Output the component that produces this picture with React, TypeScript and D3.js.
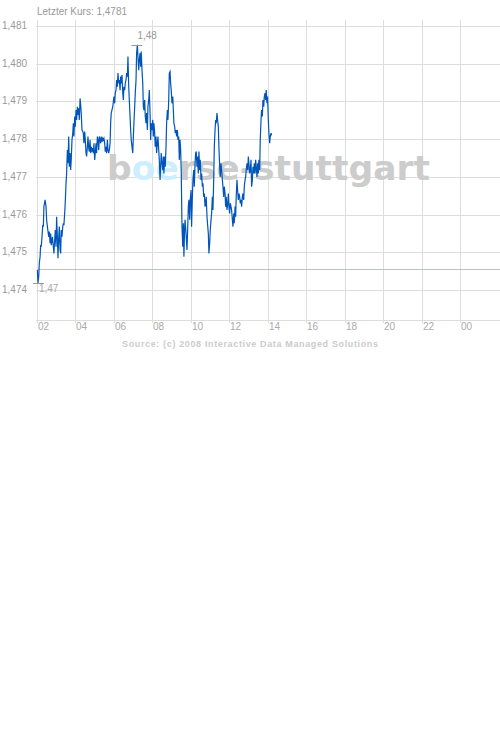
import React from "react";
import * as d3 from "d3";

// [hour of day, price]
const morning: [number, number][] = [
  [2.02, 1.47453], [2.05, 1.47419], [2.09, 1.47435], [2.12, 1.47471], [2.16, 1.47488],
  [2.19, 1.47519], [2.22, 1.47515], [2.26, 1.47541], [2.30, 1.47572], [2.33, 1.47568],
  [2.36, 1.47621], [2.42, 1.47639], [2.47, 1.47621], [2.50, 1.47586], [2.54, 1.47568],
  [2.61, 1.47541], [2.64, 1.47555], [2.68, 1.47524], [2.71, 1.47550], [2.74, 1.47519],
  [2.80, 1.47541], [2.85, 1.47515], [2.88, 1.47497], [2.92, 1.47533], [2.95, 1.47559],
  [2.99, 1.47515], [3.02, 1.47594], [3.06, 1.47541], [3.09, 1.47484], [3.13, 1.47541],
  [3.16, 1.47568], [3.20, 1.47506], [3.23, 1.47497], [3.26, 1.47559], [3.30, 1.47541],
  [3.34, 1.47568], [3.37, 1.47577], [3.40, 1.47572], [3.46, 1.47621], [3.51, 1.47683],
  [3.54, 1.47709], [3.58, 1.47771], [3.61, 1.47736], [3.65, 1.47807], [3.68, 1.47727],
  [3.72, 1.47763], [3.75, 1.47718], [3.78, 1.47745], [3.82, 1.47798], [3.86, 1.47816],
  [3.89, 1.47842], [3.92, 1.47807], [3.96, 1.47860], [3.99, 1.47833], [4.03, 1.47877],
  [4.06, 1.47851], [4.10, 1.47886], [4.13, 1.47864], [4.17, 1.47882], [4.20, 1.47851],
  [4.24, 1.47908], [4.27, 1.47891], [4.30, 1.47869], [4.34, 1.47824], [4.38, 1.47820],
  [4.41, 1.47816], [4.44, 1.47789], [4.48, 1.47820], [4.51, 1.47798], [4.55, 1.47763],
  [4.58, 1.47754], [4.62, 1.47780], [4.65, 1.47807], [4.69, 1.47776], [4.72, 1.47767],
  [4.76, 1.47798], [4.79, 1.47763], [4.82, 1.47780], [4.86, 1.47767], [4.90, 1.47776],
  [4.93, 1.47763], [4.96, 1.47789], [5.00, 1.47745], [5.03, 1.47763], [5.07, 1.47789],
  [5.10, 1.47763], [5.14, 1.47807], [5.17, 1.47798], [5.21, 1.47771], [5.24, 1.47807],
  [5.28, 1.47798], [5.31, 1.47789], [5.34, 1.47807], [5.38, 1.47793], [5.42, 1.47802],
  [5.45, 1.47798], [5.48, 1.47802], [5.52, 1.47789], [5.55, 1.47767], [5.59, 1.47780],
  [5.62, 1.47763], [5.66, 1.47798], [5.69, 1.47771], [5.73, 1.47763], [5.76, 1.47771],
  [5.80, 1.47789],
];

const midday: [number, number][] = [
  [5.83, 1.47842], [5.86, 1.47869], [5.94, 1.47886], [6.00, 1.47913], [6.04, 1.47895],
  [6.07, 1.47922], [6.11, 1.47930], [6.14, 1.47957], [6.18, 1.47939], [6.21, 1.47975],
  [6.25, 1.47948], [6.28, 1.47957], [6.32, 1.47930], [6.35, 1.47966], [6.38, 1.47948],
  [6.42, 1.47970], [6.46, 1.47922], [6.49, 1.47904], [6.52, 1.47939], [6.56, 1.47930],
  [6.59, 1.47948], [6.63, 1.47957], [6.66, 1.47975], [6.70, 1.47966], [6.73, 1.48019],
  [6.77, 1.47939], [6.80, 1.47904], [6.84, 1.47860], [6.87, 1.47824], [6.90, 1.47798],
  [6.94, 1.47780], [6.98, 1.47763], [7.01, 1.47807], [7.04, 1.47842], [7.08, 1.47886],
  [7.11, 1.47922], [7.15, 1.47957], [7.18, 1.48028], [7.22, 1.48050], [7.25, 1.48019],
  [7.29, 1.47983], [7.32, 1.48010], [7.36, 1.48028], [7.39, 1.47992], [7.42, 1.48032],
  [7.46, 1.47983], [7.50, 1.47948], [7.53, 1.47886], [7.56, 1.47877], [7.60, 1.47904],
  [7.63, 1.47860], [7.67, 1.47842], [7.70, 1.47869], [7.74, 1.47824], [7.77, 1.47886],
  [7.81, 1.47904], [7.84, 1.47930], [7.88, 1.47869], [7.91, 1.47798], [7.94, 1.47842],
  [7.98, 1.47824], [8.02, 1.47851], [8.05, 1.47807], [8.08, 1.47842], [8.12, 1.47816],
  [8.15, 1.47780], [8.19, 1.47807], [8.22, 1.47763], [8.26, 1.47789], [8.29, 1.47807],
  [8.33, 1.47771], [8.36, 1.47745], [8.40, 1.47692], [8.43, 1.47727], [8.46, 1.47763],
  [8.50, 1.47736], [8.54, 1.47718], [8.57, 1.47754], [8.60, 1.47709], [8.64, 1.47754],
  [8.67, 1.47727], [8.71, 1.47780], [8.74, 1.47842], [8.78, 1.47877], [8.81, 1.47851],
  [8.85, 1.47904], [8.88, 1.47975], [8.92, 1.47979], [8.95, 1.47948], [8.98, 1.47930],
  [9.02, 1.47895], [9.06, 1.47913], [9.09, 1.47877], [9.12, 1.47842], [9.16, 1.47833],
  [9.19, 1.47816], [9.23, 1.47824], [9.26, 1.47807], [9.30, 1.47824], [9.33, 1.47798],
  [9.37, 1.47807], [9.40, 1.47745], [9.44, 1.47798], [9.47, 1.47771], [9.50, 1.47718],
  [9.54, 1.47568], [9.58, 1.47515], [9.61, 1.47577], [9.64, 1.47488], [9.68, 1.47568],
];

const afternoon: [number, number][] = [
  [9.70, 1.47586], [9.75, 1.47550], [9.80, 1.47506], [9.84, 1.47568], [9.87, 1.47621],
  [9.90, 1.47639], [9.94, 1.47586], [9.97, 1.47639], [10.01, 1.47665], [10.04, 1.47568],
  [10.08, 1.47647], [10.11, 1.47692], [10.15, 1.47718], [10.18, 1.47674], [10.22, 1.47736],
  [10.25, 1.47763], [10.28, 1.47767], [10.32, 1.47727], [10.35, 1.47754], [10.39, 1.47709],
  [10.42, 1.47767], [10.46, 1.47718], [10.49, 1.47745], [10.53, 1.47692], [10.56, 1.47709],
  [10.60, 1.47674], [10.63, 1.47683], [10.67, 1.47647], [10.70, 1.47656], [10.74, 1.47621],
  [10.77, 1.47630], [10.80, 1.47647], [10.84, 1.47594], [10.88, 1.47568], [10.91, 1.47550],
  [10.94, 1.47497], [10.98, 1.47524], [11.01, 1.47559], [11.05, 1.47586], [11.08, 1.47603],
  [11.12, 1.47647], [11.15, 1.47612], [11.19, 1.47692], [11.22, 1.47780], [11.26, 1.47824],
  [11.29, 1.47851], [11.32, 1.47842], [11.36, 1.47869], [11.39, 1.47851], [11.43, 1.47833],
  [11.46, 1.47780], [11.50, 1.47727], [11.53, 1.47700], [11.57, 1.47736], [11.60, 1.47718],
  [11.64, 1.47692], [11.67, 1.47674], [11.71, 1.47647], [11.74, 1.47674], [11.78, 1.47656],
  [11.81, 1.47621], [11.84, 1.47647], [11.88, 1.47612], [11.92, 1.47630], [11.95, 1.47656],
  [11.98, 1.47621], [12.02, 1.47603], [12.05, 1.47630], [12.09, 1.47621], [12.12, 1.47612],
  [12.16, 1.47586], [12.19, 1.47568], [12.23, 1.47603], [12.26, 1.47577], [12.30, 1.47621],
  [12.33, 1.47594], [12.36, 1.47647], [12.40, 1.47692], [12.43, 1.47665], [12.47, 1.47639],
  [12.50, 1.47656], [12.54, 1.47647], [12.57, 1.47630], [12.61, 1.47639], [12.64, 1.47621],
  [12.68, 1.47647], [12.71, 1.47656], [12.75, 1.47639], [12.78, 1.47674], [12.82, 1.47692],
  [12.85, 1.47700], [12.88, 1.47718], [12.92, 1.47736], [12.96, 1.47718], [12.99, 1.47754],
  [13.02, 1.47736], [13.06, 1.47709], [13.09, 1.47718], [13.13, 1.47745], [13.16, 1.47674],
  [13.20, 1.47692], [13.23, 1.47727], [13.27, 1.47709], [13.30, 1.47736], [13.34, 1.47709],
  [13.37, 1.47745], [13.40, 1.47727], [13.44, 1.47700], [13.48, 1.47736], [13.51, 1.47709],
  [13.54, 1.47745], [13.58, 1.47718], [13.61, 1.47798], [13.65, 1.47851], [13.68, 1.47877],
  [13.72, 1.47860], [13.75, 1.47904], [13.79, 1.47886], [13.82, 1.47913], [13.86, 1.47922],
  [13.89, 1.47904], [13.92, 1.47930], [13.96, 1.47895], [13.99, 1.47913], [14.03, 1.47851],
  [14.06, 1.47816], [14.10, 1.47789], [14.13, 1.47807], [14.17, 1.47816], [14.20, 1.47810],
];

const yTicks = [1.474, 1.475, 1.476, 1.477, 1.478, 1.479, 1.48, 1.481];
const xTicks = [2, 4, 6, 8, 10, 12, 14, 16, 18, 20, 22, 24];
const previousClose = 1.47456;
const lastPrice = "1,4781";
const highLabel = "1,48";
const lowLabel = "1,47";
const titleText = `Letzter Kurs: ${lastPrice}`;
const sourceText = "Source: (c) 2008 Interactive Data Managed Solutions";

const W = 500;
const H = 735;
const left = 37;
const top = 20;
const bottom = 320;
const right = 500;

export default function App() {
  const data = [...morning, ...midday, ...afternoon];
  const x = d3.scaleLinear().domain([2, 26]).range([left, 498.5]);
  const y = d3.scaleLinear().domain([1.474, 1.481]).range([290, 26]);
  const line = d3
    .line<[number, number]>()
    .x((d) => x(d[0]))
    .y((d) => y(d[1]));

  const hi = data.reduce((a, b) => (b[1] > a[1] ? b : a));
  const lo = data.reduce((a, b) => (b[1] < a[1] ? b : a));
  const fmtHour = (h: number) => d3.format("02d")(h % 24);
  const fmtY = (v: number) => d3.format(".3f")(v).replace(".", ",");
  const font = "'Liberation Sans', Arial, sans-serif";
  const grid = "#dddddd";

  return (
    <svg
      width={W}
      height={H}
      style={{ position: "absolute", left: 0, top: 0, background: "#fff" }}
      fontFamily={font}
    >
      <rect x={0} y={0} width={W} height={H} fill="#fff" />
      {/* horizontal gridlines */}
      {yTicks.map((t) => (
        <line key={"h" + t} x1={left - 1} x2={right} y1={Math.round(y(t)) + 0.5} y2={Math.round(y(t)) + 0.5} stroke={grid} />
      ))}
      {/* vertical gridlines */}
      {xTicks.map((t) => (
        <line key={"v" + t} x1={Math.round(x(t)) + 0.5} x2={Math.round(x(t)) + 0.5} y1={top} y2={bottom + 3} stroke={grid} />
      ))}
      <line x1={left - 1} x2={right} y1={bottom + 0.5} y2={bottom + 0.5} stroke={grid} />
      {/* watermark */}
      <text
        x={107}
        y={180}
        fontFamily="'DejaVu Sans', sans-serif"
        fontWeight="bold"
        fontSize={34}
        textLength={323}
        lengthAdjust="spacingAndGlyphs"
        fill="#cccccc"
      >
        b<tspan fill="#cceeff">oe</tspan>rse-stuttgart
      </text>
      {/* previous close */}
      <line x1={left} x2={right} y1={Math.round(y(previousClose)) + 0.5} y2={Math.round(y(previousClose)) + 0.5} stroke="#99ccf0" />
      {/* price line */}
      <path d={line(data) ?? ""} fill="none" stroke="#0055bb" strokeWidth={1.2} />
      {/* high / low markers */}
      <line x1={x(hi[0]) - 6} x2={x(hi[0]) + 5} y1={Math.round(y(hi[1])) + 0.5} y2={Math.round(y(hi[1])) + 0.5} stroke="#999" />
      <text x={x(hi[0])} y={y(hi[1]) - 6} fontSize={10} fill="#999">{highLabel}</text>
      <line x1={x(lo[0]) - 5} x2={x(lo[0]) + 6} y1={Math.round(y(lo[1])) + 0.5} y2={Math.round(y(lo[1])) + 0.5} stroke="#999" />
      <text x={x(lo[0]) + 1} y={y(lo[1]) + 9} fontSize={10} fill="#aaa">{lowLabel}</text>
      {/* y labels */}
      {yTicks.map((t) => (
        <text key={"yl" + t} x={2} y={y(t) + 3} fontSize={10} fill="#999">{fmtY(t)}</text>
      ))}
      {/* x labels */}
      {xTicks.map((t) => (
        <text key={"xl" + t} x={Math.round(x(t)) + 1} y={330} fontSize={10} fill="#aaa">{fmtHour(t)}</text>
      ))}
      <text x={37} y={15} fontSize={10} fill="#999">{titleText}</text>
      <text x={122} y={347} fontSize={9} fontWeight="bold" fill="#cccccc" textLength={256} lengthAdjust="spacing">
        {sourceText}
      </text>
    </svg>
  );
}
